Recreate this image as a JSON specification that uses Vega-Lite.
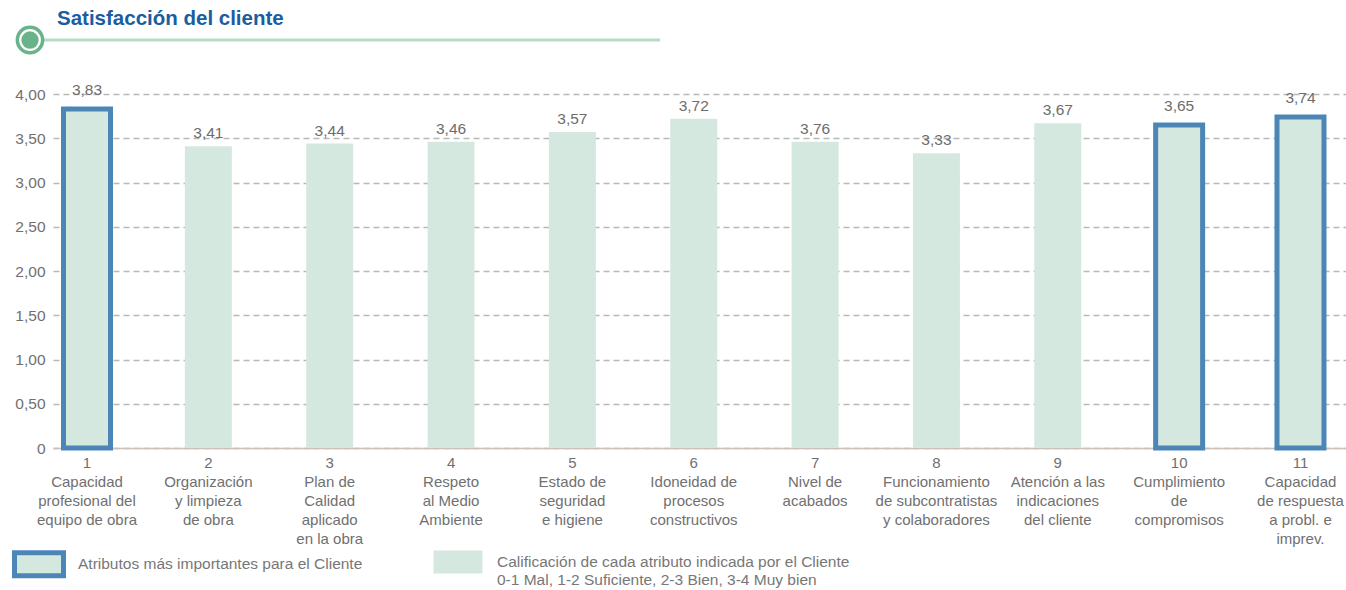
{
  "$schema": "https://vega.github.io/schema/vega-lite/v6.json",
  "autosize": {"type": "none"},
  "padding": {"left": 53, "top": 94, "right": 0, "bottom": 142},
  "width": 1293,
  "height": 354,
  "config": {
    "locale": {"number": {"decimal": ",", "thousands": ".", "grouping": [3], "currency": ["", " €"]}},
    "view": {"stroke": null},
    "font": "Liberation Sans"
  },
  "title": {
    "text": "Satisfacción del cliente",
    "anchor": "start",
    "frame": "group",
    "font": "Liberation Sans",
    "fontSize": 20.5,
    "fontWeight": "bold",
    "color": "#1b5d9e",
    "dx": 4,
    "dy": 13
  },
  "data": {
    "values": [
      {"atributo": "1|Capacidad|profesional del|equipo de obra", "altura": 3.83, "valor": 3.83, "tipo": "Atributos más importantes para el Cliente"},
      {"atributo": "2|Organización|y limpieza|de obra", "altura": 3.41, "valor": 3.41, "tipo": "Calificación de cada atributo indicada por el Cliente|0-1 Mal, 1-2 Suficiente, 2-3 Bien, 3-4 Muy bien"},
      {"atributo": "3|Plan de|Calidad|aplicado|en la obra", "altura": 3.44, "valor": 3.44, "tipo": "Calificación de cada atributo indicada por el Cliente|0-1 Mal, 1-2 Suficiente, 2-3 Bien, 3-4 Muy bien"},
      {"atributo": "4|Respeto|al Medio|Ambiente", "altura": 3.46, "valor": 3.46, "tipo": "Calificación de cada atributo indicada por el Cliente|0-1 Mal, 1-2 Suficiente, 2-3 Bien, 3-4 Muy bien"},
      {"atributo": "5|Estado de|seguridad|e higiene", "altura": 3.57, "valor": 3.57, "tipo": "Calificación de cada atributo indicada por el Cliente|0-1 Mal, 1-2 Suficiente, 2-3 Bien, 3-4 Muy bien"},
      {"atributo": "6|Idoneidad de|procesos|constructivos", "altura": 3.72, "valor": 3.72, "tipo": "Calificación de cada atributo indicada por el Cliente|0-1 Mal, 1-2 Suficiente, 2-3 Bien, 3-4 Muy bien"},
      {"atributo": "7|Nivel de|acabados", "altura": 3.46, "valor": 3.76, "tipo": "Calificación de cada atributo indicada por el Cliente|0-1 Mal, 1-2 Suficiente, 2-3 Bien, 3-4 Muy bien"},
      {"atributo": "8|Funcionamiento|de subcontratistas|y colaboradores", "altura": 3.33, "valor": 3.33, "tipo": "Calificación de cada atributo indicada por el Cliente|0-1 Mal, 1-2 Suficiente, 2-3 Bien, 3-4 Muy bien"},
      {"atributo": "9|Atención a las|indicaciones|del cliente", "altura": 3.67, "valor": 3.67, "tipo": "Calificación de cada atributo indicada por el Cliente|0-1 Mal, 1-2 Suficiente, 2-3 Bien, 3-4 Muy bien"},
      {"atributo": "10|Cumplimiento|de|compromisos", "altura": 3.65, "valor": 3.65, "tipo": "Atributos más importantes para el Cliente"},
      {"atributo": "11|Capacidad|de respuesta|a probl. e|imprev.", "altura": 3.74, "valor": 3.74, "tipo": "Atributos más importantes para el Cliente"}
    ]
  },
  "layer": [
    {
      "layer": [
        {
          "mark": {"type": "bar", "strokeWidth": 5, "strokeJoin": "miter"},
          "encoding": {
            "x": {
              "field": "atributo", "type": "nominal", "sort": null,
              "scale": {"paddingInner": 0.6127, "paddingOuter": 0.134, "align": 0.323},
              "axis": {
                "title": null, "labelAngle": 0, "ticks": false,
                "labelExpr": "split(datum.label, '|')",
                "domainColor": "#c9c1ba", "domainWidth": 1.5,
                "labelColor": "#707070", "labelFontSize": 15, "labelLineHeight": 19,
                "labelPadding": 7, "labelLimit": 0, "labelOverlap": false, "labelFont": "Liberation Sans"
              }
            },
            "y": {
              "field": "altura", "type": "quantitative",
              "scale": {"domain": [0, 4], "nice": false},
              "axis": {
                "title": null, "values": [0, 0.5, 1, 1.5, 2, 2.5, 3, 3.5, 4],
                "format": ".2f", "labelExpr": "datum.value === 0 ? '0' : datum.label",
                "domain": false, "ticks": false,
                "gridDash": [6, 4], "gridColor": "#b8b8b8", "gridWidth": 1.5,
                "labelPadding": 8, "labelColor": "#707070", "labelFontSize": 15.5, "labelFont": "Liberation Sans"
              }
            },
            "fill": {
              "field": "tipo", "type": "nominal",
              "scale": {
                "domain": ["Atributos más importantes para el Cliente", "Calificación de cada atributo indicada por el Cliente|0-1 Mal, 1-2 Suficiente, 2-3 Bien, 3-4 Muy bien"],
                "range": ["#d5e8df", "#d5e8df"]
              },
              "legend": {
                "title": null, "orient": "none", "legendX": -41, "legendY": 441,
                "direction": "horizontal",
                "symbolType": "M-1,-0.47H1V0.47H-1Z", "symbolSize": 2401, "symbolStrokeWidth": 5,
                "labelExpr": "split(datum.label, '|')", "labelBaseline": "middle",
                "labelFontSize": 15.5, "labelColor": "#777777", "labelLimit": 0,
                "labelLineHeight": 18, "labelOffset": 12, "columnPadding": 60, "labelFont": "Liberation Sans"
              }
            },
            "stroke": {
              "field": "tipo", "type": "nominal",
              "scale": {
                "domain": ["Atributos más importantes para el Cliente", "Calificación de cada atributo indicada por el Cliente|0-1 Mal, 1-2 Suficiente, 2-3 Bien, 3-4 Muy bien"],
                "range": ["#4b86b7", "rgba(0,0,0,0)"]
              },
              "legend": {
                "title": null, "orient": "none", "legendX": -41, "legendY": 441,
                "direction": "horizontal",
                "symbolType": "M-1,-0.47H1V0.47H-1Z", "symbolSize": 2401, "symbolStrokeWidth": 5,
                "labelExpr": "split(datum.label, '|')", "labelBaseline": "middle",
                "labelFontSize": 15.5, "labelColor": "#777777", "labelLimit": 0,
                "labelLineHeight": 18, "labelOffset": 12, "columnPadding": 60, "labelFont": "Liberation Sans"
              }
            }
          }
        },
        {
          "transform": [{"filter": "datum.tipo === 'Atributos más importantes para el Cliente'"}],
          "mark": {"type": "text", "baseline": "middle", "dy": -19, "fontSize": 15.5, "color": "#6d6d6d", "font": "Liberation Sans"},
          "encoding": {
            "x": {"field": "atributo", "type": "nominal", "sort": null},
            "y": {"field": "altura", "type": "quantitative"},
            "text": {"field": "valor", "type": "quantitative", "format": ".2f"}
          }
        },
        {
          "transform": [{"filter": "datum.tipo !== 'Atributos más importantes para el Cliente'"}],
          "mark": {"type": "text", "baseline": "middle", "dy": -13, "fontSize": 15.5, "color": "#6d6d6d", "font": "Liberation Sans"},
          "encoding": {
            "x": {"field": "atributo", "type": "nominal", "sort": null},
            "y": {"field": "altura", "type": "quantitative"},
            "text": {"field": "valor", "type": "quantitative", "format": ".2f"}
          }
        }
      ]
    },
    {
      "data": {"values": [{"elemento": "cabecera"}]},
      "layer": [
        {
          "mark": {"type": "rule", "strokeWidth": 3, "color": "#b7dbc6", "clip": false},
          "encoding": {
            "x": {"datum": -18, "type": "quantitative", "scale": {"domain": [0, 1293], "nice": false, "zero": false}, "axis": null},
            "x2": {"datum": 607},
            "y": {"datum": 4.61, "type": "quantitative", "scale": {"domain": [0, 4], "nice": false}, "axis": null}
          }
        },
        {
          "mark": {"type": "point", "shape": "circle", "size": 640, "filled": false, "fill": "#ffffff", "fillOpacity": 1, "stroke": "#6ab38a", "strokeWidth": 3.5, "opacity": 1, "clip": false},
          "encoding": {
            "x": {"datum": -23, "type": "quantitative"},
            "y": {"datum": 4.61, "type": "quantitative"}
          }
        },
        {
          "mark": {"type": "point", "shape": "circle", "size": 300, "filled": true, "color": "#6ab38a", "opacity": 1, "clip": false},
          "encoding": {
            "x": {"datum": -23, "type": "quantitative"},
            "y": {"datum": 4.61, "type": "quantitative"}
          }
        }
      ]
    }
  ],
  "resolve": {"scale": {"x": "independent", "y": "independent"}}
}
